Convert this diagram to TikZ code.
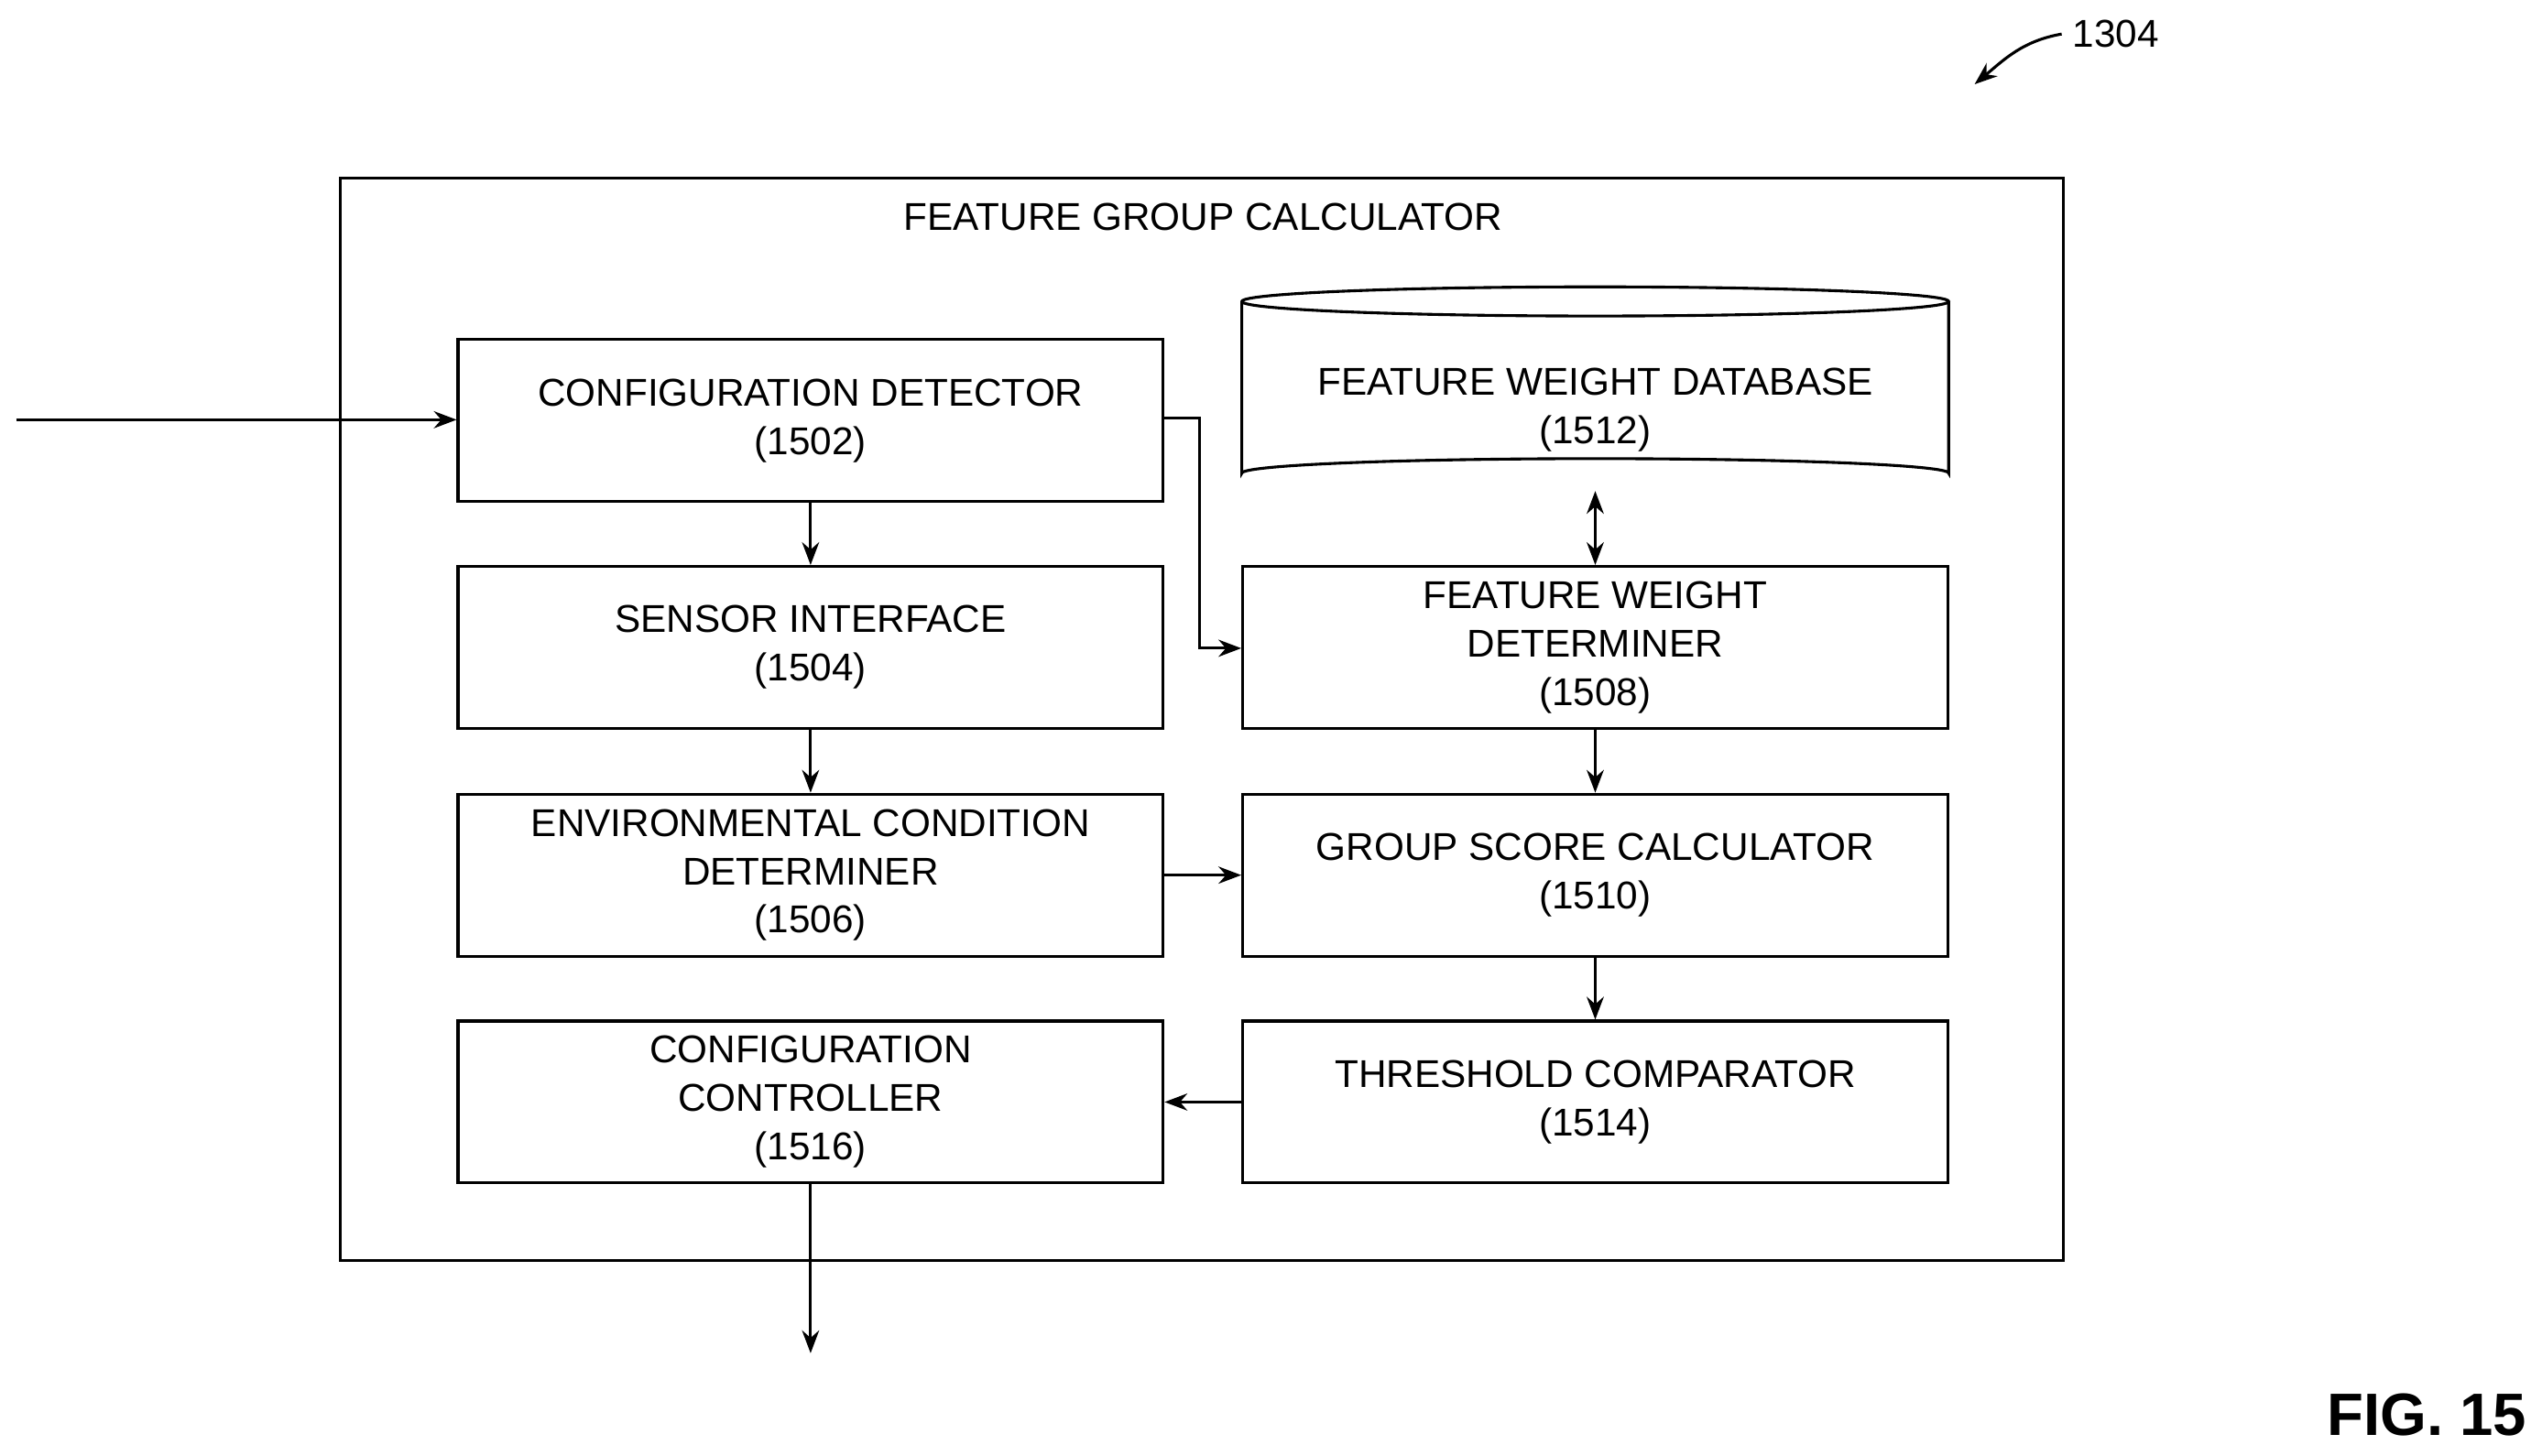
\documentclass[tikz,border=0pt]{standalone}
\usepackage{fontspec}
\setmainfont{Liberation Sans}
\usetikzlibrary{arrows.meta}
\tikzset{>={Stealth[length=8pt,width=6pt]}}
\tikzset{blk/.style={draw, line width=1pt, minimum width=8.7cm, minimum height=2cm, align=center, font=\fontsize{13.6}{17}\selectfont, inner sep=1pt}}
\begin{document}
\begin{tikzpicture}[x=0.02cm, y=-0.02cm, line width=1pt]
\useasboundingbox (0,0) rectangle (1568,898);

\node[draw, line width=1pt, minimum width=21.26cm, minimum height=13.36cm] (fgc) at (741.5,444) {};
\node[font=\fontsize{13.6}{17}\selectfont] (title) at (742,134) {FEATURE GROUP CALCULATOR};

\node[blk] (cd) at (500,259.5) {CONFIGURATION DETECTOR\\(1502)};
\node[blk] (si) at (500,399.5) {SENSOR INTERFACE\\(1504)};
\node[blk] (ecd) at (500,540) {ENVIRONMENTAL CONDITION\\DETERMINER\\(1506)};
\node[blk] (cc) at (500,680) {CONFIGURATION\\CONTROLLER\\(1516)};
\node[blk] (fwd) at (984,399.5) {FEATURE WEIGHT\\DETERMINER\\(1508)};
\node[blk] (gsc) at (984,540) {GROUP SCORE CALCULATOR\\(1510)};
\node[blk] (tc) at (984,680) {THRESHOLD COMPARATOR\\(1514)};

% database cylinder
\draw (766,186) arc[x radius=218, y radius=9, start angle=180, end angle=-180]
  -- (766,292) arc[x radius=218, y radius=9, start angle=180, end angle=360] -- (1202,186);
\node[draw=none, minimum width=8.7cm, minimum height=1.6cm, align=center, font=\fontsize{13.6}{17}\selectfont] (db) at (984,253) {FEATURE WEIGHT DATABASE\\(1512)};
\coordinate (dbb) at (984,303);

\coordinate (in) at (10,259);
\coordinate (out) at (500,835);
\draw[->] (in) -- (cd.west |- in);
\draw[->] (cd) -- (si);
\draw[->] (si) -- (ecd);
\draw[->] (ecd) -- (gsc);
\draw[->] (cd.east |- 0,258) -| (740,400) -- (fwd.west |- 0,400);
\draw[<->] (dbb) -- (fwd);
\draw[->] (fwd) -- (gsc);
\draw[->] (gsc) -- (tc);
\draw[->] (tc) -- (cc);
\draw[->] (cc) -- (out);

\node[font=\fontsize{13.6}{17}\selectfont] (ref) at (1305,21) {1304};
\draw[->] (ref.west) to[out=190, in=40] (1218,52);
\node[font=\bfseries\fontsize{21}{25}\selectfont] (fig) at (1497,873) {FIG. 15};
\end{tikzpicture}
\end{document}
